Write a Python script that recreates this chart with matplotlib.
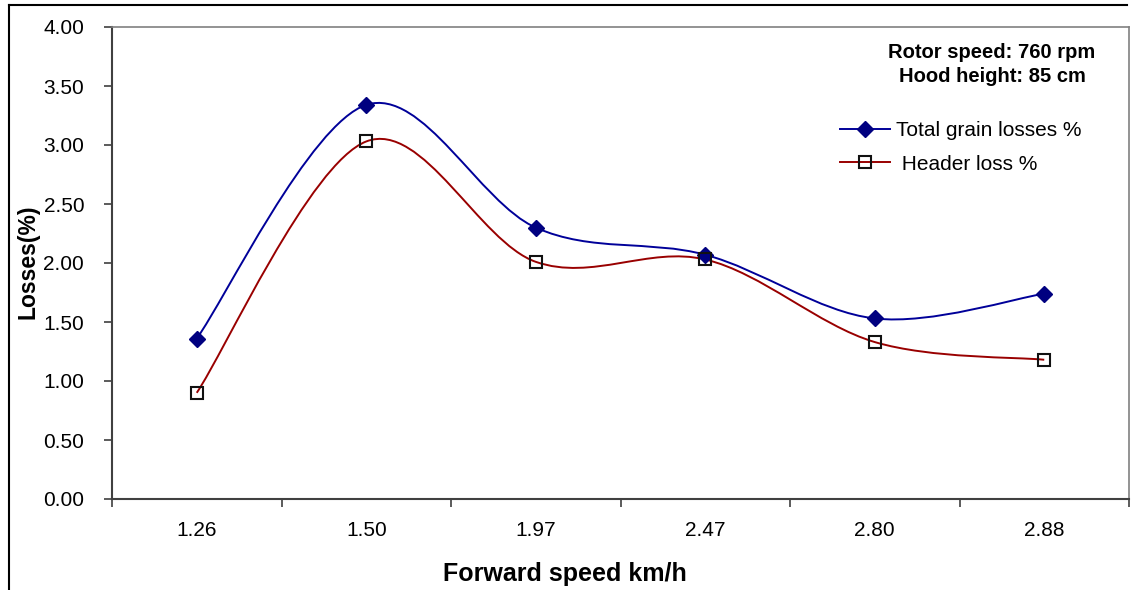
import numpy as np
import matplotlib
matplotlib.use('Agg')
import matplotlib.pyplot as plt
from matplotlib.path import Path
from matplotlib.patches import PathPatch
from matplotlib.lines import Line2D

plt.rcParams['font.family'] = ['Liberation Sans', 'DejaVu Sans']

# data
speeds = ['1.26', '1.50', '1.97', '2.47', '2.80', '2.88']
total_losses = [1.36, 3.34, 2.30, 2.07, 1.53, 1.74]
header_losses = [0.90, 3.03, 2.01, 2.03, 1.33, 1.18]
y_ticks = [0.0, 0.5, 1.0, 1.5, 2.0, 2.5, 3.0, 3.5, 4.0]


def smooth_path(xs, ys):
    # excel style smoothed line: cubic bezier segments through the points
    pts = np.column_stack([xs, ys]).astype(float)
    n = len(pts)
    verts = [pts[0]]
    codes = [Path.MOVETO]
    for i in range(n - 1):
        p0 = pts[max(i - 1, 0)]
        p1 = pts[i]
        p2 = pts[i + 1]
        p3 = pts[min(i + 2, n - 1)]
        c1 = p1 + (p2 - p0) / 6
        c2 = p2 - (p3 - p1) / 6
        verts += [c1, c2, p2]
        codes += [Path.CURVE4] * 3
    return Path(verts, codes)


fig = plt.figure(figsize=(11.35, 5.9), dpi=100)
ax = fig.add_axes([112 / 1135, 91 / 590, 1017 / 1135, 472 / 590])

x = np.arange(len(speeds))
navy = '#000080'
maroon = '#990000'

ax.add_patch(PathPatch(smooth_path(x, total_losses), facecolor='none',
                       edgecolor='#000099', lw=1.4, zorder=2))
ax.add_patch(PathPatch(smooth_path(x, header_losses), facecolor='none',
                       edgecolor=maroon, lw=1.4, zorder=2))
ax.plot(x, total_losses, ls='none', marker='D', ms=8, color=navy, zorder=3)
ax.plot(x, header_losses, ls='none', marker='s', ms=8, mfc='none',
        mec='#111111', mew=1.5, zorder=3)

ax.set_xlim(-0.5, len(speeds) - 0.5)
ax.set_ylim(0, 4)
ax.set_yticks(y_ticks)
ax.set_yticklabels([f'{v:.2f}' for v in y_ticks])
ax.set_xticks(x)
ax.set_xticklabels(speeds)
ax.set_xticks(np.arange(len(speeds) + 1) - 0.5, minor=True)
ax.tick_params(axis='x', which='major', length=0, pad=16, labelsize=15)
ax.tick_params(axis='x', which='minor', length=6, color='#404040', width=1.2)
ax.tick_params(axis='y', length=6, color='#404040', width=1.2, pad=14, labelsize=15)

for side in ['top', 'right']:
    ax.spines[side].set_color('#808080')
    ax.spines[side].set_linewidth(1.2)
for side in ['left', 'bottom']:
    ax.spines[side].set_color('#404040')
    ax.spines[side].set_linewidth(1.5)

fig.text(28 / 1135, 1 - 262 / 590, 'Losses(%)', rotation=90, fontsize=16.5,
         fontweight='bold', ha='center', va='center')
fig.text(565 / 1135, 1 - 574 / 590, 'Forward speed km/h', fontsize=18,
         fontweight='bold', ha='center', va='center')

fig.text(992 / 1135, 1 - 52 / 590, 'Rotor speed: 760 rpm', fontsize=14.5,
         fontweight='bold', ha='center', va='center')
fig.text(992 / 1135, 1 - 77 / 590, 'Hood height: 85 cm', fontsize=14.5,
         fontweight='bold', ha='center', va='center')

handles = [
    Line2D([], [], color='#000099', lw=1.4, marker='D', ms=8, mfc=navy, mec=navy),
    Line2D([], [], color=maroon, lw=1.4, marker='s', ms=8, mfc='none', mec='#111111', mew=1.5),
]
fig.legend(handles, ['Total grain losses %', ' Header loss %'], loc='upper left',
           bbox_to_anchor=(840 / 1135, 1 - 121 / 590), frameon=False, fontsize=15,
           handlelength=2.4, handletextpad=0.3, labelspacing=0.7, borderpad=0,
           borderaxespad=0)

# figure border (cropped on right and bottom)
fig.add_artist(Line2D([9 / 1135, 9 / 1135], [0, 1 - 5 / 590], color='black', lw=1.5,
                      transform=fig.transFigure))
fig.add_artist(Line2D([9 / 1135, 1127 / 1135], [1 - 5 / 590, 1 - 5 / 590], color='black',
                      lw=1.5, transform=fig.transFigure))

fig.savefig('out.png', dpi=100)
